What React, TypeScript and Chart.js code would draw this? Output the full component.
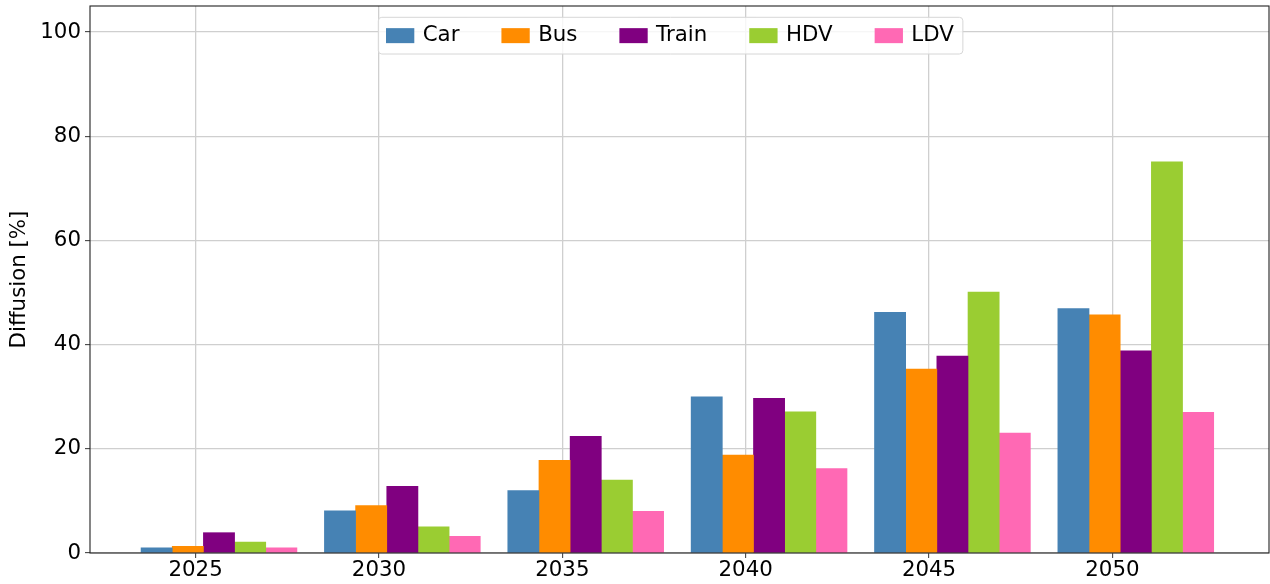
import { useEffect, useRef } from "react";
import { Chart, registerables } from "chart.js";

Chart.register(...registerables);

// ---- data ----
const years = [2025, 2030, 2035, 2040, 2045, 2050];
const seriesNames = ["Car", "Bus", "Train", "HDV", "LDV"];
const car = [1.0, 8.1, 12.0, 30.0, 46.2, 46.9];
const bus = [1.3, 9.1, 17.8, 18.8, 35.3, 45.7];
const train = [3.9, 12.8, 22.4, 29.7, 37.8, 38.8];
const hdv = [2.1, 5.0, 14.0, 27.1, 50.1, 75.1];
const ldv = [1.0, 3.2, 8.0, 16.2, 23.0, 27.0];
const yTicks = [0, 20, 40, 60, 80, 100];
const yTitle = "Diffusion [%]";

// ---- styles ----
const seriesValues = [car, bus, train, hdv, ldv];
const colors = ["#4682B4", "#FF8C00", "#800080", "#9ACD32", "#FF69B4"];
const FONT = "'DejaVu Sans', sans-serif";
const FS = 21.33;
const BAR_W = 0.85; // bar width in x-axis units
const X_MIN = 2022.12;
const X_MAX = 2054.27;
const Y_MAX = 105;

const framePlugin = {
  id: "frameLegend",
  afterDatasetsDraw(chart: any) {
    const { ctx, chartArea: a } = chart;
    ctx.save();
    // spines
    ctx.strokeStyle = "#222";
    ctx.lineWidth = 1.1;
    ctx.strokeRect(a.left, a.top, a.right - a.left, a.bottom - a.top);

    // legend (matplotlib-like, inside axes)
    ctx.font = `${FS}px ${FONT}`;
    const boxLeft = 378.3;
    const boxTop = 17.3;
    const boxH = 36.7;
    const padL = 7.7;
    const swW = 28.3;
    const swH = 15;
    const textOff = 36.7;
    const colGap = 42;
    let x = boxLeft + padL;
    const items: { x: number; label: string; color: string }[] = [];
    chart.data.datasets.forEach((ds: any) => {
      items.push({ x, label: ds.label, color: ds.backgroundColor });
      x += textOff + ctx.measureText(ds.label).width + colGap;
    });
    const boxRight = x - colGap + 9;
    // frame
    const r = 3.5;
    const w = boxRight - boxLeft;
    ctx.beginPath();
    ctx.moveTo(boxLeft + r, boxTop);
    ctx.lineTo(boxLeft + w - r, boxTop);
    ctx.quadraticCurveTo(boxLeft + w, boxTop, boxLeft + w, boxTop + r);
    ctx.lineTo(boxLeft + w, boxTop + boxH - r);
    ctx.quadraticCurveTo(boxLeft + w, boxTop + boxH, boxLeft + w - r, boxTop + boxH);
    ctx.lineTo(boxLeft + r, boxTop + boxH);
    ctx.quadraticCurveTo(boxLeft, boxTop + boxH, boxLeft, boxTop + boxH - r);
    ctx.lineTo(boxLeft, boxTop + r);
    ctx.quadraticCurveTo(boxLeft, boxTop, boxLeft + r, boxTop);
    ctx.closePath();
    ctx.fillStyle = "rgba(255,255,255,0.8)";
    ctx.fill();
    ctx.strokeStyle = "#d6d6d6";
    ctx.lineWidth = 1;
    ctx.stroke();

    const cy = boxTop + boxH / 2;
    ctx.textBaseline = "middle";
    ctx.textAlign = "left";
    items.forEach((it) => {
      ctx.fillStyle = it.color;
      ctx.fillRect(it.x, cy - swH / 2, swW, swH);
      ctx.fillStyle = "#000";
      ctx.fillText(it.label, it.x + textOff, cy);
    });
    ctx.restore();
  },
};

const zeroPadding = (axis: any) => {
  axis.paddingTop = 0;
  axis.paddingBottom = 0;
  axis.paddingLeft = 0;
  axis.paddingRight = 0;
};

export default function App() {
  const ref = useRef<HTMLCanvasElement | null>(null);

  useEffect(() => {
    document.body.style.margin = "0";
    const canvas = ref.current;
    if (!canvas) return;

    const datasets = seriesNames.map((name, i) => ({
      label: name,
      data: years.map((yr, j) => ({
        x: yr + (i - 1.25) * BAR_W,
        y: seriesValues[i][j],
      })),
      backgroundColor: colors[i],
      borderWidth: 0,
      grouped: false,
      categoryPercentage: 1,
      barPercentage: 1,
    }));

    const chart = new Chart(canvas, {
      type: "bar",
      data: { datasets },
      options: {
        responsive: false,
        animation: false,
        devicePixelRatio: 1,
        layout: { padding: { top: 6, right: 1, left: 0, bottom: 0 } },
        plugins: {
          legend: { display: false },
          tooltip: { enabled: false },
        },
        scales: {
          x: {
            type: "linear",
            min: X_MIN,
            max: X_MAX,
            offset: false,
            afterBuildTicks: (axis: any) => {
              axis.ticks = years.map((v) => ({ value: v }));
            },
            afterFit: (axis: any) => {
              axis.height = 31;
              zeroPadding(axis);
            },
            grid: {
              offset: false,
              color: "#cfcfcf",
              lineWidth: 1.3,
              drawTicks: true,
              tickLength: 5,
              tickColor: "#333",
              tickWidth: 1,
            },
            border: { display: false },
            ticks: {
              color: "#000",
              padding: 0,
              maxRotation: 0,
              autoSkip: false,
              font: { family: FONT, size: FS },
              callback: (v: any) => String(v),
            },
          },
          y: {
            type: "linear",
            min: 0,
            max: Y_MAX,
            afterBuildTicks: (axis: any) => {
              axis.ticks = yTicks.map((v) => ({ value: v }));
            },
            afterFit: (axis: any) => {
              axis.width = 90;
              zeroPadding(axis);
            },
            grid: {
              color: "#cfcfcf",
              lineWidth: 1.3,
              drawTicks: true,
              tickLength: 5,
              tickColor: "#333",
              tickWidth: 1,
            },
            border: { display: false },
            ticks: {
              color: "#000",
              padding: 4,
              font: { family: FONT, size: FS },
              callback: (v: any) => String(v),
            },
            title: {
              display: true,
              text: yTitle,
              color: "#000",
              padding: { top: 7, bottom: 0 },
              font: { family: FONT, size: FS },
            },
          },
        },
      } as any,
      plugins: [framePlugin],
    });

    return () => chart.destroy();
  }, []);

  return (
    <div style={{ width: 1270, height: 584 }}>
      <canvas ref={ref} width={1270} height={584} style={{ display: "block" }} />
    </div>
  );
}
